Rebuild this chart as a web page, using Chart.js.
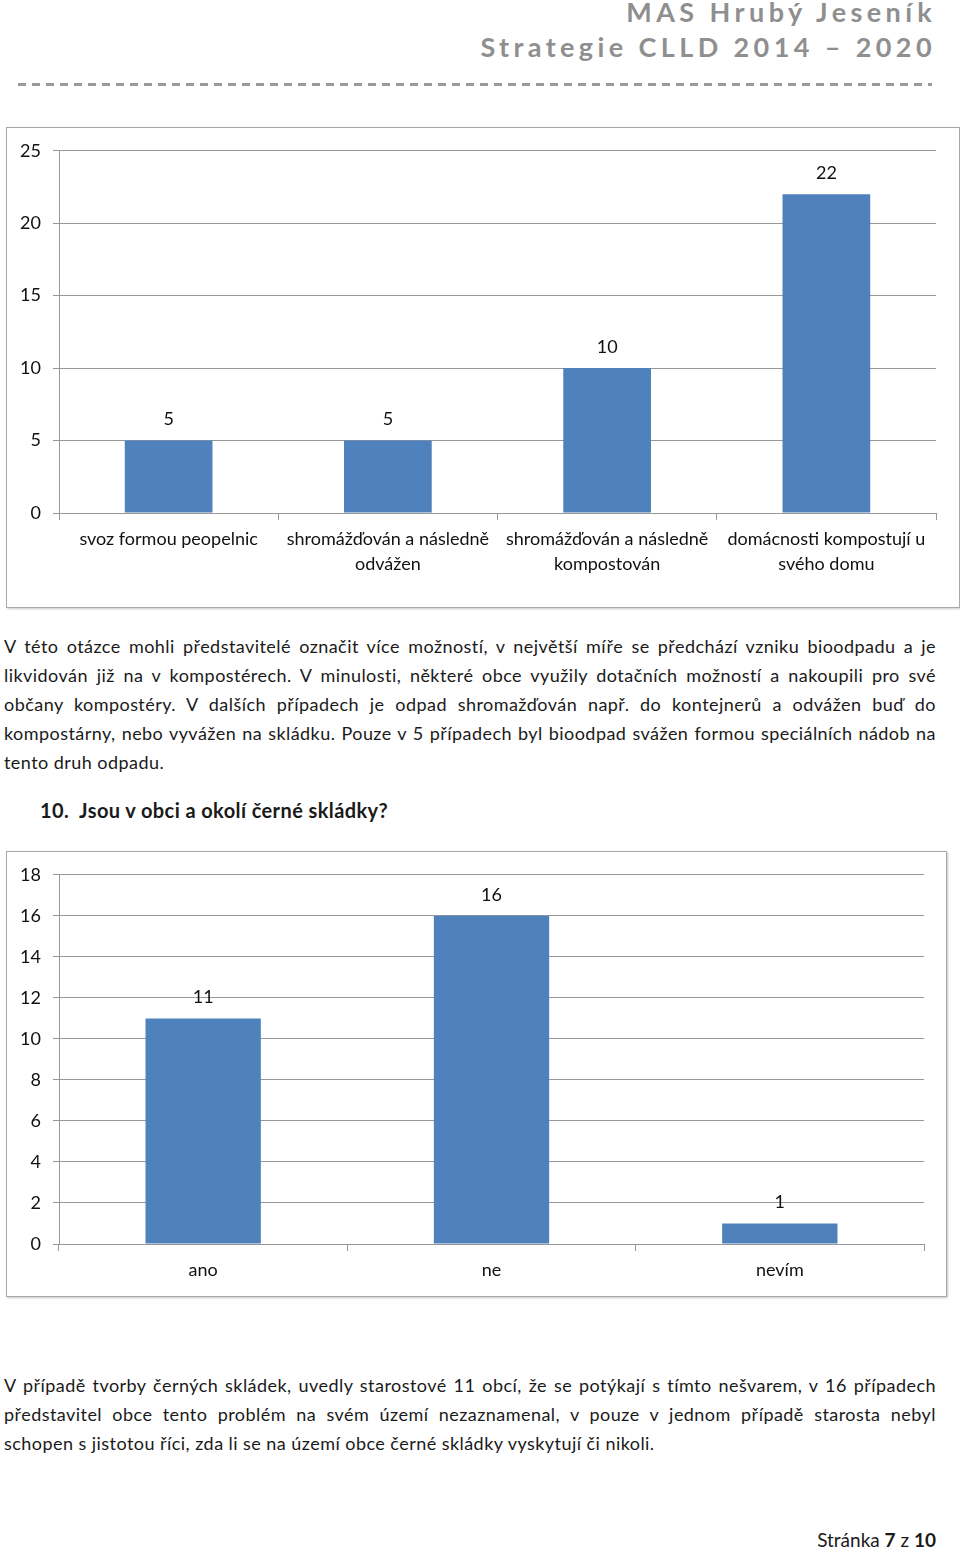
<!DOCTYPE html>
<html lang="cs">
<head>
<meta charset="utf-8">
<title>MAS Hrubý Jeseník</title>
<script src="https://cdn.jsdelivr.net/npm/chart.js@4/dist/chart.umd.min.js"></script>
<style>
  body { margin: 0; background: #fff; font-family: Lato, "Open Sans", sans-serif; color: #1a1a1a; }
  .stranka { position: relative; width: 960px; height: 1549px; overflow: hidden; }
  .hlavicka { position: absolute; right: 24px; color: #8f8f8f; font-weight: bold; font-size: 27px; letter-spacing: 4.4px; white-space: nowrap; }
  .carky { position: absolute; left: 18px; top: 83px; width: 914px; height: 3px;
    background: repeating-linear-gradient(90deg, #9a9a9a 0 8px, transparent 8px 14px); }
  .ramecek { position: absolute; border: 1px solid #a8a8a8; box-shadow: 1px 1px 2px #c8c8c8; background: #fff; }
  .text { position: absolute; left: 4px; width: 932px; font-size: 18px; letter-spacing: 0.45px; line-height: 29px; }
  .text div { text-align: justify; text-align-last: justify; white-space: nowrap; }
  .text div.posledni { text-align-last: left; }
  .nadpis { position: absolute; left: 40px; top: 798px; font-size: 20px; letter-spacing: 0.4px; font-weight: bold; }
  .paticka { position: absolute; right: 24px; top: 1528px; font-size: 19px; }
</style>
</head>
<body>
<div class="stranka">
  <div class="hlavicka" style="top: -5px;">MAS Hrubý Jeseník</div>
  <div class="hlavicka" style="top: 30px;">Strategie CLLD 2014 – 2020</div>
  <div class="carky"></div>

  <div class="ramecek" style="left: 6px; top: 127px; width: 952px; height: 479px;">
    <canvas id="graf1" width="952" height="479"></canvas>
  </div>

  <div class="text" style="top: 632px;">
    <div>V této otázce mohli představitelé označit více možností, v největší míře se předchází vzniku bioodpadu a je</div>
    <div>likvidován již na v kompostérech. V minulosti, některé obce využily dotačních možností a nakoupili pro své</div>
    <div>občany kompostéry. V dalších případech je odpad shromažďován např. do kontejnerů a odvážen buď do</div>
    <div>kompostárny, nebo vyvážen na skládku. Pouze v 5 případech byl bioodpad svážen formou speciálních nádob na</div>
    <div class="posledni">tento druh odpadu.</div>
  </div>

  <div class="nadpis">10.&nbsp; Jsou v obci a okolí černé skládky?</div>

  <div class="ramecek" style="left: 6px; top: 851px; width: 939px; height: 444px;">
    <canvas id="graf2" width="939" height="444"></canvas>
  </div>

  <div class="text" style="top: 1371px;">
    <div>V případě tvorby černých skládek, uvedly starostové 11 obcí, že se potýkají s tímto nešvarem, v 16 případech</div>
    <div>představitel obce tento problém na svém území nezaznamenal, v pouze v jednom případě starosta nebyl</div>
    <div class="posledni">schopen s jistotou říci, zda li se na území obce černé skládky vyskytují či nikoli.</div>
  </div>

  <div class="paticka">Stránka <b>7</b> z <b>10</b></div>
</div>

<script>
// data grafu 1 (nakladani s bioodpadem)
const kategorie1 = [
    ["svoz formou peopelnic"],
    ["shromážďován a následně", "odvážen"],
    ["shromážďován a následně", "kompostován"],
    ["domácnosti kompostují u", "svého domu"]
]
const hodnoty1 = [5, 5, 10, 22]
const osaY1 = { max: 25, krok: 5 }

// data grafu 2 (cerne skladky)
const kategorie2 = ["ano", "ne", "nevím"]
const hodnoty2 = [11, 16, 1]
const osaY2 = { max: 18, krok: 2 }

const modra = '#4f81bd'
const seda = '#989898'

Chart.defaults.font.family = 'Lato, "Open Sans", sans-serif'
Chart.defaults.font.size = 18
Chart.defaults.color = '#111'

// popisky hodnot nad sloupci
const popiskyHodnot = {
    id: 'popiskyHodnot',
    afterDatasetsDraw(chart) {
        const ctx = chart.ctx
        ctx.save()
        ctx.font = '18px Lato, "Open Sans", sans-serif'
        ctx.fillStyle = '#111'
        ctx.textAlign = 'center'
        ctx.textBaseline = 'middle'
        chart.getDatasetMeta(0).data.forEach((sloupec, i) => {
            ctx.fillText(chart.data.datasets[0].data[i], sloupec.x, sloupec.y - 21)
        })
        ctx.restore()
    }
}

const vytvorGraf = (id, kategorie, hodnoty, osa, vyskaX, okraje) => {
    const ctx = document.getElementById(id)
    return new Chart(ctx, {
        type: 'bar',
        data: {
            labels: kategorie,
            datasets: [{
                data: hodnoty,
                backgroundColor: modra,
                categoryPercentage: 1,
                barPercentage: 0.4
            }]
        },
        options: {
            responsive: false,
            animation: false,
            layout: { padding: okraje },
            plugins: { legend: { display: false }, tooltip: { enabled: false } },
            scales: {
                x: {
                    grid: { offset: true, drawOnChartArea: false, color: seda, tickLength: 7 },
                    border: { color: seda },
                    ticks: { padding: 7, maxRotation: 0, autoSkip: false, font: { size: 18, lineHeight: 1.39 } },
                    afterFit: (s) => { s.height = vyskaX }
                },
                y: {
                    min: 0,
                    max: osa.max,
                    grid: { color: seda, tickLength: 6 },
                    border: { color: seda },
                    ticks: { stepSize: osa.krok, padding: 12 },
                    afterFit: (s) => { s.width = 52 }
                }
            }
        },
        plugins: [popiskyHodnot]
    })
}

vytvorGraf('graf1', kategorie1, hodnoty1, osaY1, 94, { top: 20, right: 23, left: 0, bottom: 0 })
vytvorGraf('graf2', kategorie2, hodnoty2, osaY2, 52, { top: 19, right: 22, left: 0, bottom: 0 })
</script>
</body>
</html>
